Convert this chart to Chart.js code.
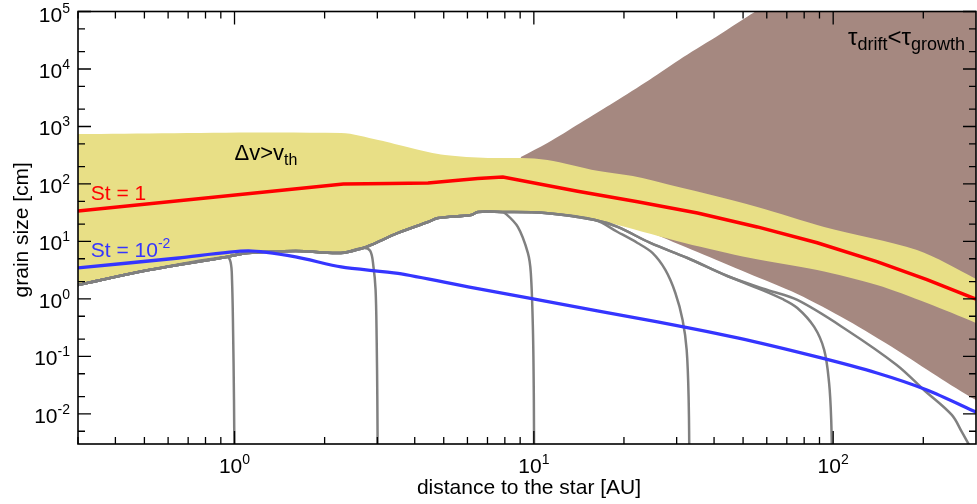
<!DOCTYPE html>
<html lang="en">
<head>
<meta charset="UTF-8">
<title>Grain size vs distance to the star</title>
<script src="https://cdn.jsdelivr.net/npm/chart.js"></script>
<style>
  html, body { margin: 0; padding: 0; background: #fff; }
  .chart-box { position: relative; width: 977px; height: 504px; }
</style>
</head>
<body>
<div class="chart-box"><canvas id="grainChart"></canvas></div>
<script>
// axis ranges and ticks
const xRange = [0.3, 300];
const yRange = [0.003, 1e5];
const xMajorTicks = [1, 10, 100];
const xTickExponents = ['0', '1', '2'];
const yMajorTicks = [1e-2, 1e-1, 1, 10, 100, 1e3, 1e4, 1e5];
const yTickExponents = ['-2', '-1', '0', '1', '2', '3', '4', '5'];
const xMinorSteps = [2, 3, 4, 5, 6, 7, 8, 9];
const yMinorSteps = [2, 5];

// tau_drift < tau_growth region, outline (upper edge, then lower edge back)
const driftRegion = [
  [9.05, 295], [11.1, 516], [14.3, 1151], [18.6, 2667], [24.3, 6442], [31.6, 16180],
  [41.8, 40000], [51, 78000], [55, 1e5], [62, 1.5e5], [78, 1e6], [400, 1e6], [400, 0.009],
  [300, 0.0175], [222, 0.0458], [163, 0.13], [111, 0.431], [75.9, 1.22], [51.7, 2.83],
  [35.2, 6.57], [24.5, 14.6], [16.3, 43.1], [9.05, 175]
];

// dv > v_th band: upper edge left->right, lower edge right->left
const fragUpper = [
  [0.3, 741], [2.27, 771], [3.02, 582], [3.89, 423], [5.05, 318], [7.02, 283], [9.06, 283],
  [11.1, 261], [16.3, 169], [22.2, 132], [25.9, 109], [55.8, 39.8], [93.3, 17.9],
  [190.5, 7.1], [300, 2.23], [400, 1.0]
];
const fragLower = [
  [400, 0.194], [300, 0.383], [205.7, 0.852], [140, 1.75], [88.4, 3.19], [52.9, 5.16], [31.9, 9.42],
  [19.05, 19.4], [16.0, 23.6], [10.9, 31.3], [7.76, 32.6], [6.5, 32.6], [6.17, 28.9],
  [4.79, 25.6], [4.43, 21.8], [3.52, 14.1], [2.86, 8.7], [2.69, 7.71], [2.27, 6.31],
  [1.6, 6.84], [1.11, 6.31], [0.94, 5.38], [0.517, 3.19], [0.3, 1.75]
];

// St = 1 and St = 1e-2 grain sizes
const stOne = [
  [0.3, 33.9], [2.31, 100], [3.3, 102], [4.43, 104], [5.71, 117], [6.5, 124], [7.88, 132],
  [14.0, 74.7], [22.2, 49.2], [35.2, 31.3], [55.8, 17.9], [88.4, 9.48], [140, 4.46],
  [205.7, 2.17], [300, 0.99]
];
const stHundredth = [
  [0.3, 3.46], [0.651, 5.16], [1.11, 6.84], [1.6, 5.38], [2.27, 3.6], [3.52, 2.78],
  [6.03, 1.62], [9.55, 1.04], [16.3, 0.618], [25.9, 0.398], [47.9, 0.21], [88.4, 0.098],
  [140, 0.0516], [205.7, 0.0261], [300, 0.0108]
];

// grain growth tracks: common envelope, then each track's fall-off
const growthEnvelope = [
  [0.3, 1.75], [0.517, 3.19], [0.94, 5.38], [1.11, 6.31], [1.6, 6.84], [2.27, 6.31],
  [2.69, 7.71], [2.86, 8.7], [3.52, 14.1], [4.43, 21.8], [4.79, 25.6], [6.17, 28.9],
  [6.5, 32.6], [7.76, 32.6], [10.9, 31.3], [16.0, 23.6], [19.05, 17.9], [24.5, 9.42],
  [32.6, 5.16], [44.3, 2.51]
];
const trackBranchAt = [0.94, 2.69, 7.76, 16.0, 44.3, 44.3];
const trackTails = [
  [[0.97, 4.4], [0.981, 2.14], [0.989, 0.289], [0.996, 0.0175], [1.0, 0.001]],
  [[2.84, 6.84], [2.91, 3.75], [2.96, 1.43], [2.985, 0.194], [3.0, 0.0175], [3.01, 0.001]],
  [[8.0, 31.3], [8.84, 17.9], [9.55, 6.31], [9.77, 2.83], [9.93, 0.289], [10, 0.0175], [10.02, 0.001]],
  [[19.05, 14.6], [22.2, 9.42], [24.9, 6.31], [27.5, 3.19], [29.7, 1.27], [31.4, 0.431],
   [32.4, 0.13], [32.9, 0.0175], [33.1, 0.001]],
  [[55.8, 1.55], [67.6, 1.0], [75.9, 0.697], [86.4, 0.326], [93.3, 0.13], [96.9, 0.0346],
   [98.5, 0.00787], [99.2, 0.001]],
  [[60.3, 1.43], [75.9, 0.96], [111, 0.289], [163, 0.0711], [201, 0.0261], [249, 0.0096],
   [269, 0.00486], [286, 0.00277], [300, 0.00194]]
];

const fontFamily = '"Liberation Sans", Arial, Helvetica, sans-serif';
const toXY = arr => arr.map(p => ({x: p[0], y: p[1]}));

const tracks = trackTails.map((tail, i) =>
    growthEnvelope.filter(p => p[0] <= trackBranchAt[i]).concat(tail));

const xMinor = [];
[0.1, 1, 10, 100].forEach(base => xMinorSteps.forEach(k => {
    const v = k * base;
    if (v > xRange[0] && v < xRange[1]) xMinor.push(v);
}));
const yMinor = [];
[1e-3, 1e-2, 1e-1, 1, 10, 100, 1e3, 1e4].forEach(base => yMinorSteps.forEach(k => {
    const v = k * base;
    if (v > yRange[0] && v < yRange[1]) yMinor.push(v);
}));

// draw a run of text pieces (for super/subscripts)
function drawRuns(ctx, x, y, runs, color, align) {
    ctx.fillStyle = color;
    ctx.textAlign = 'left';
    ctx.textBaseline = 'alphabetic';
    let total = 0;
    runs.forEach(r => {
        ctx.font = r.size + 'px ' + fontFamily;
        r.w = ctx.measureText(r.text).width;
        total += r.w;
    });
    let cx = align === 'center' ? x - total / 2 : (align === 'right' ? x - total : x);
    runs.forEach(r => {
        ctx.font = r.size + 'px ' + fontFamily;
        ctx.fillText(r.text, cx, y + (r.dy || 0));
        cx += r.w;
    });
}

const framePlugin = {
    id: 'frame',
    afterDraw(chart) {
        const {ctx, chartArea: a, scales: {x, y}} = chart;
        ctx.save();
        ctx.strokeStyle = '#000';
        ctx.lineWidth = 1.3;
        ctx.beginPath();
        const xTick = (v, len) => {
            const px = x.getPixelForValue(v);
            ctx.moveTo(px, a.bottom); ctx.lineTo(px, a.bottom - len);
            ctx.moveTo(px, a.top); ctx.lineTo(px, a.top + len);
        };
        const yTick = (v, len) => {
            const py = y.getPixelForValue(v);
            ctx.moveTo(a.left, py); ctx.lineTo(a.left + len, py);
            ctx.moveTo(a.right, py); ctx.lineTo(a.right - len, py);
        };
        xMinor.forEach(v => xTick(v, 7));
        xMajorTicks.forEach(v => xTick(v, 13));
        yMinor.forEach(v => yTick(v, 7));
        yMajorTicks.forEach(v => yTick(v, 13));
        ctx.stroke();
        ctx.lineWidth = 1.6;
        ctx.strokeRect(a.left, a.top, a.right - a.left, a.bottom - a.top);

        // tick labels
        xMajorTicks.forEach((v, i) => {
            drawRuns(ctx, x.getPixelForValue(v), a.bottom + 29,
                [{text: '10', size: 21}, {text: xTickExponents[i], size: 14, dy: -9}], '#000', 'center');
        });
        yMajorTicks.forEach((v, i) => {
            const py = Math.max(y.getPixelForValue(v), 13);
            drawRuns(ctx, a.left - 8, py + 9,
                [{text: '10', size: 21}, {text: yTickExponents[i], size: 14, dy: -9}], '#000', 'right');
        });

        // axis titles
        drawRuns(ctx, (a.left + a.right) / 2 + 2, 494,
            [{text: 'distance to the star [AU]', size: 21}], '#000', 'center');
        ctx.save();
        ctx.translate(28, (a.top + a.bottom) / 2 + 2);
        ctx.rotate(-Math.PI / 2);
        drawRuns(ctx, 0, 0, [{text: 'grain size [cm]', size: 21}], '#000', 'center');
        ctx.restore();

        // region and curve labels
        drawRuns(ctx, x.getPixelForValue(0.331), y.getPixelForValue(52.7),
            [{text: 'St = 1', size: 21}], '#ff0000', 'left');
        drawRuns(ctx, x.getPixelForValue(0.331), y.getPixelForValue(5.38),
            [{text: 'St = 10', size: 21}, {text: '-2', size: 14, dy: -9}], '#3535ff', 'left');
        drawRuns(ctx, x.getPixelForValue(1.0), y.getPixelForValue(261),
            [{text: 'Δv>v', size: 22}, {text: 'th', size: 16, dy: 5}], '#000', 'left');
        drawRuns(ctx, x.getPixelForValue(112), y.getPixelForValue(26100),
            [{text: 'τ', size: 24}, {text: 'drift', size: 18, dy: 5}, {text: '<', size: 24},
             {text: 'τ', size: 24}, {text: 'growth', size: 18, dy: 5}], '#000', 'left');
        ctx.restore();
    }
};

const datasets = [
    {
        label: 'St = 1', data: toXY(stOne), showLine: true, order: 1, tension: 0,
        borderColor: '#ff0000', borderWidth: 3.5, pointRadius: 0, fill: false, clip: 0
    },
    {
        label: 'St = 1e-2', data: toXY(stHundredth), showLine: true, order: 2, tension: 0.25,
        borderColor: '#3535ff', borderWidth: 3.3, pointRadius: 0, fill: false, clip: 0
    }
];
tracks.forEach((t, i) => datasets.push({
    label: 'track ' + i, data: toXY(t), showLine: true, order: 4, tension: 0.35,
    borderColor: '#808080', borderWidth: 2.5, pointRadius: 0, fill: false, clip: 0
}));
datasets.push({
    label: 'dv > vth', data: toXY(fragUpper.concat(fragLower)), showLine: true, order: 5,
    tension: 0.3, borderWidth: 0, borderColor: 'rgba(0,0,0,0)', backgroundColor: '#e8df86',
    pointRadius: 0, fill: 'shape', clip: 0
});
datasets.push({
    label: 'tdrift < tgrowth', data: toXY(driftRegion), showLine: true, order: 6,
    tension: 0.3, borderWidth: 0, borderColor: 'rgba(0,0,0,0)', backgroundColor: '#a58880',
    pointRadius: 0, fill: 'shape', clip: 0
});

const grainChart = new Chart(document.getElementById('grainChart').getContext('2d'), {
    type: 'scatter',
    data: { datasets: datasets },
    options: {
        responsive: true,
        maintainAspectRatio: false,
        animation: false,
        events: [],
        layout: { padding: { left: 78, right: 1, top: 11.5, bottom: 60 } },
        plugins: {
            legend: { display: false },
            tooltip: { enabled: false }
        },
        scales: {
            x: { type: 'logarithmic', min: xRange[0], max: xRange[1], display: false },
            y: { type: 'logarithmic', min: yRange[0], max: yRange[1], display: false }
        }
    },
    plugins: [framePlugin]
});
</script>
</body>
</html>
